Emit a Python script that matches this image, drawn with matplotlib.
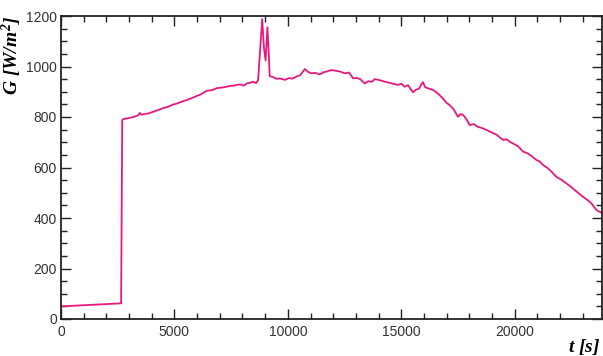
import matplotlib
matplotlib.use("Agg")
import matplotlib.pyplot as plt
from matplotlib.ticker import MultipleLocator

t = [0, 2650, 2700, 2750, 3000, 3200, 3400, 3480, 3550, 3700, 3900, 4066, 4300, 4500,
     4700, 4900, 5100, 5300, 5540, 5750, 5950, 6150, 6420, 6650, 6860, 7050, 7250, 7450,
     7600, 7740, 7900, 8050, 8200, 8350, 8470, 8600, 8690, 8760, 8870, 8950, 9020,
     9100, 9160, 9200, 9350, 9500, 9650, 9870, 10050, 10200, 10380, 10550, 10750, 10900,
     11040, 11200, 11410, 11600, 11750, 11920, 12100, 12300, 12510, 12700, 12880, 13050,
     13200, 13390, 13550, 13700, 13830, 14000, 14270, 14450, 14650, 14860, 15000, 15150,
     15300, 15420, 15520, 15650, 15780, 15880, 15960, 16050, 16180, 16400, 16550, 16700,
     16850, 17000, 17150, 17300, 17500, 17620, 17730, 17880, 18020, 18200, 18350, 18600,
     18800, 19000, 19200, 19490, 19650, 19780, 19950, 20150, 20370, 20550, 20750, 20960,
     21100, 21250, 21450, 21650, 21840, 22050, 22280, 22500, 22750, 23010, 23200, 23400,
     23600, 23820]
G = [50, 62, 788, 792, 796, 800, 807, 816, 809, 812, 815, 821, 828, 835,
     840, 848, 853, 860, 867, 874, 882, 889, 904, 906, 914, 916, 919, 923,
     924, 927, 929, 924, 933, 936, 940, 934, 946, 1040, 1188, 1070, 1024,
     1155, 1050, 962, 958, 951, 953, 947, 954, 952, 960, 966, 990, 978,
     973, 975, 969, 978, 981, 986, 983, 980, 973, 976, 953, 955,
     949, 933, 942, 939, 950, 947, 940, 936, 931, 927, 932, 920,
     926, 910, 898, 908, 912, 928, 938, 918, 914, 907, 898, 886,
     872, 856, 846, 832, 801, 812, 808, 790, 768, 772, 762, 755,
     747, 738, 730, 709, 712, 702, 694, 684, 663, 657, 645, 630,
     624, 610, 598, 581, 563, 552, 537, 522, 503, 484, 472, 456,
     432, 421]

plt.rcParams["font.family"] = "Liberation Sans"
plt.rcParams["mathtext.fontset"] = "custom"
plt.rcParams["mathtext.it"] = "Liberation Serif:italic:bold"
plt.rcParams["mathtext.rm"] = "Liberation Serif:italic:bold"
plt.rcParams["mathtext.bf"] = "Liberation Serif:italic:bold"

fig = plt.figure(figsize=(6.03, 3.56), dpi=100)
ax = fig.add_axes([61/603, 37/356, 541/603, 303/356])
ax.plot(t, G, color="#E8197C", lw=1.3)
ax.set_xlim(0, 23850)
ax.set_ylim(0, 1200)
ax.xaxis.set_major_locator(MultipleLocator(5000))
ax.xaxis.set_minor_locator(MultipleLocator(1000))
ax.yaxis.set_major_locator(MultipleLocator(200))
ax.yaxis.set_minor_locator(MultipleLocator(50))
ax.tick_params(which="both", direction="in", top=True, right=True, width=1.0, color="#222222",
               labelcolor="#333333")
ax.tick_params(which="major", length=7, labelsize=10, pad=4)
ax.tick_params(axis="y", which="major", pad=3)
ax.tick_params(which="minor", length=4)
for s in ax.spines.values():
    s.set_linewidth(1.3)
    s.set_color("#222222")

fig.text(12/603, 1 - 55/356, r"$G\ [W/m^2]$", rotation=90, ha="center", va="center",
         fontsize=14)
fig.text(601/603, 1 - 347/356, r"$t\ [s]$", ha="right", va="center", fontsize=14)

fig.savefig("out.png", dpi=100)
